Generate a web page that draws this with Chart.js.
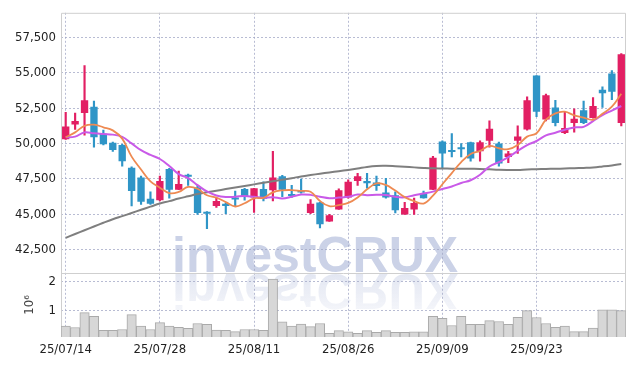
<!DOCTYPE html>
<html><head><meta charset="utf-8">
<script src="https://cdn.jsdelivr.net/npm/chart.js@4.4.1/dist/chart.umd.min.js"></script>
<style>html,body{margin:0;padding:0;background:#fff;overflow:hidden}</style>
</head><body>
<canvas id="c" width="634" height="366" style="width:634px;height:366px;display:block"></canvas>
<script>
const dates = ['25/07/14','25/07/15','25/07/16','25/07/17','25/07/18','25/07/21','25/07/22','25/07/23','25/07/24','25/07/25',
'25/07/28','25/07/29','25/07/30','25/07/31','25/08/01','25/08/04','25/08/05','25/08/06','25/08/07','25/08/08',
'25/08/11','25/08/12','25/08/13','25/08/14','25/08/18','25/08/19','25/08/20','25/08/21','25/08/22','25/08/25',
'25/08/26','25/08/27','25/08/28','25/08/29','25/09/01','25/09/02','25/09/03','25/09/04','25/09/05','25/09/08',
'25/09/09','25/09/10','25/09/11','25/09/12','25/09/15','25/09/16','25/09/17','25/09/18','25/09/19','25/09/22',
'25/09/23','25/09/24','25/09/25','25/09/26','25/09/29','25/09/30','25/10/01','25/10/02','25/10/10','25/10/13'];
const opens  = [50300,51350,52150,52600,50700,50050,49900,48300,47600,46100,
46000,48200,46750,47800,46900,45100,45600,45750,46150,46800,
46200,46800,46700,47700,46450,46600,45100,45850,44500,45350,
46200,47350,47350,47250,46550,46350,45000,45350,46500,46750,
50150,49450,49700,50100,49450,50200,50000,49050,50200,51000,
54800,51700,52550,50750,51450,52350,51800,53800,54950,51450];
const highs  = [52200,52150,55500,53000,50950,50100,49950,48350,47700,46600,
47700,48250,48050,47850,47050,45200,46150,45800,46650,46850,
46850,47300,49450,47750,47050,47500,46050,45850,45000,46800,
47450,47900,47900,47700,47550,46600,45850,46150,46650,49100,
50200,50700,50000,50100,50200,51600,50100,49450,51250,53300,
54800,53500,53050,52200,52450,53000,53250,54000,55150,56350];
const lows   = [50300,51000,50600,49750,49900,49450,48400,45600,45700,45700,
45950,46150,46750,47050,45000,44000,45500,45050,45550,46000,
45150,45950,45950,46250,46200,46500,45050,44050,44500,45350,
46150,47050,46850,46700,46150,45100,45000,45000,46150,46750,
48250,49050,49050,48750,48750,49750,48400,48650,49300,50950,
51900,51600,51250,50700,50800,51400,51800,52550,53100,51250];
const closes = [51200,51600,53050,50450,49950,49550,48750,46650,45900,45750,
47350,46750,47150,47650,45100,45050,45950,45600,46050,46250,
46850,46100,47600,46750,46300,46550,45750,44300,44950,46700,
47300,47700,47200,47000,46200,45300,45450,45800,46150,49000,
49300,49400,49600,48950,50100,51050,48600,49300,50500,53050,
52250,53400,51450,51100,51750,51450,52650,53550,53650,56300];
const ma5  = [50440,50790,51250,51330,51150,50930,50350,49080,48170,47330,
46890,46500,46590,46940,46810,46350,46190,45870,45560,45790,
46140,46170,46560,46700,46720,46660,46600,45950,45580,45660,
45810,46200,46770,47190,47080,46680,46220,45940,45770,46330,
47130,47920,48690,49260,49480,49830,49670,49600,49900,50490,
50730,51690,52130,52250,51990,51830,51680,52100,52610,53510];
const ma10 = [50440,50490,50790,50720,50670,50630,50470,50010,49530,49200,
48910,48420,47840,47560,47070,46620,46340,46230,46250,46300,
46240,46180,46220,46130,46250,46400,46380,46250,46140,46190,
46240,46400,46360,46380,46370,46240,46210,46360,46480,46610,
46800,46970,47220,47410,47800,48380,48690,49040,49480,49890,
50180,50580,50760,50980,51140,51180,51590,52010,52330,52650];
const ma60 = [43350,43620,43880,44150,44410,44660,44880,45100,45330,45550,
45770,45940,46120,46280,46440,46560,46670,46790,46900,47010,
47120,47230,47340,47450,47560,47680,47780,47870,47960,48050,
48140,48240,48350,48420,48430,48400,48360,48320,48280,48250,
48240,48230,48230,48220,48210,48180,48150,48140,48140,48170,
48190,48210,48220,48240,48260,48280,48310,48380,48460,48560];
const volumes = [0.45,0.40,0.92,0.79,0.30,0.30,0.33,0.85,0.45,0.33,
0.57,0.45,0.41,0.37,0.54,0.51,0.31,0.30,0.26,0.33,
0.33,0.30,2.09,0.60,0.45,0.52,0.43,0.54,0.20,0.29,
0.25,0.20,0.29,0.23,0.29,0.23,0.23,0.25,0.25,0.79,
0.72,0.47,0.79,0.51,0.51,0.64,0.61,0.51,0.76,0.99,
0.75,0.54,0.41,0.45,0.26,0.26,0.38,1.02,1.02,0.99];
const priceTicks = [42500,45000,47500,50000,52500,55000,57500];
const volumeTicks = [1,2];
const labelEvery = 10;

const UP = '#e21f63', DOWN = '#2f95c7';
const GRID = 'rgba(160,166,196,0.75)';
const FONT = '"DejaVu Sans Condensed","Liberation Sans Narrow",sans-serif';
const candleColor = i => closes[i] >= opens[i] ? UP : DOWN;

const deco = {
  id: 'deco',
  beforeDraw(chart) {
    const ctx = chart.ctx, vol = chart.scales.vol;
    const base = vol.top;
    ctx.save();
    ctx.font = 'bold 50px "Liberation Sans", Arial, sans-serif';
    ctx.textBaseline = 'alphabetic';
    ctx.fillStyle = '#cbd2e7';
    ctx.fillText('investCRUX', 172, base - 1);
    ctx.translate(0, 2 * base);
    ctx.scale(1, -1);
    const g = ctx.createLinearGradient(0, base, 0, base - 42);
    g.addColorStop(0, 'rgba(203,210,231,0.55)');
    g.addColorStop(1, 'rgba(203,210,231,0.18)');
    ctx.fillStyle = g;
    ctx.fillText('investCRUX', 172, base - 1);
    ctx.restore();
  },
  beforeDatasetsDraw(chart) {
    const ctx = chart.ctx, a = chart.chartArea, vol = chart.scales.vol;
    ctx.save();
    ctx.strokeStyle = '#cfcfcf';
    ctx.lineWidth = 1;
    ctx.beginPath();
    ctx.moveTo(a.left + 0.5, a.bottom); ctx.lineTo(a.left + 0.5, a.top + 0.5);
    ctx.lineTo(a.right - 0.5, a.top + 0.5); ctx.lineTo(a.right - 0.5, a.bottom);
    ctx.moveTo(a.left, Math.round(vol.top) + 0.5); ctx.lineTo(a.right, Math.round(vol.top) + 0.5);
    ctx.stroke();
    ctx.restore();
  }
};

const tickFont = {family: FONT, size: 13};
new Chart(document.getElementById('c'), {
  data: {
    labels: dates,
    datasets: [
      {type:'line', data: ma5, yAxisID:'y', borderColor:'#ee8a52', borderWidth:1.8, pointRadius:0, tension:0.4, order:1},
      {type:'line', data: ma10, yAxisID:'y', borderColor:'#c95ae8', borderWidth:2, pointRadius:0, tension:0.4, order:2},
      {type:'line', data: ma60, yAxisID:'y', borderColor:'#7f7f7f', borderWidth:2, pointRadius:0, tension:0.4, order:3},
      {type:'bar', data: opens.map((o,i)=>[o, closes[i]]), yAxisID:'y', grouped:false,
        backgroundColor: c => candleColor(c.dataIndex), categoryPercentage:1, barPercentage:0.78, minBarLength:2, order:4},
      {type:'bar', data: lows.map((l,i)=>[l, highs[i]]), yAxisID:'y', grouped:false,
        backgroundColor: c => candleColor(c.dataIndex), barThickness:1.5, order:5},
      {type:'bar', data: volumes, yAxisID:'vol', grouped:false, backgroundColor:'#d7d7d7', borderColor:'#aaaaaa',
        borderWidth:1, categoryPercentage:1, barPercentage:1, clip:0, order:6}
    ]
  },
  options: {
    responsive:false, devicePixelRatio:1, animation:false,
    layout:{padding:{top:9, right:8, left:0, bottom:0}},
    plugins:{legend:{display:false}, tooltip:{enabled:false}},
    scales: {
      x: {type:'category', offset:true,
        grid:{offset:false, color:GRID, drawTicks:false}, border:{display:false, dash:[2,2]},
        ticks:{autoSkip:false, maxRotation:0, padding:5, color:'#222', font:tickFont,
          callback:(v,i)=> i % labelEvery === 0 ? dates[i] : null},
        afterFit: s => { s.height = 29; }},
      vol: {type:'linear', position:'left', stack:'p', stackWeight:65, min:0.07, max:2.31,
        afterBuildTicks: s => { s.ticks = volumeTicks.map(v => ({value:v})); },
        grid:{color:GRID, drawTicks:false}, border:{display:false, dash:[2,2]},
        ticks:{padding:5, color:'#222', font:tickFont, callback: v => String(v)},
        title:{display:true, text:'10⁶', color:'#444', font:{family:FONT, size:13}, padding:{top:22, bottom:0}},
        afterFit: s => { s.width = 61; }},
      y: {type:'linear', position:'left', stack:'p', stackWeight:263, min:40885, max:59226,
        afterBuildTicks: s => { s.ticks = priceTicks.map(v => ({value:v})); },
        grid:{color:GRID, drawTicks:false}, border:{display:false, dash:[2,2]},
        ticks:{padding:5, color:'#222', font:tickFont, callback: v => v.toLocaleString('en-US')},
        afterFit: s => { s.width = 61; }}
    }
  },
  plugins:[deco]
});
</script>
</body></html>
